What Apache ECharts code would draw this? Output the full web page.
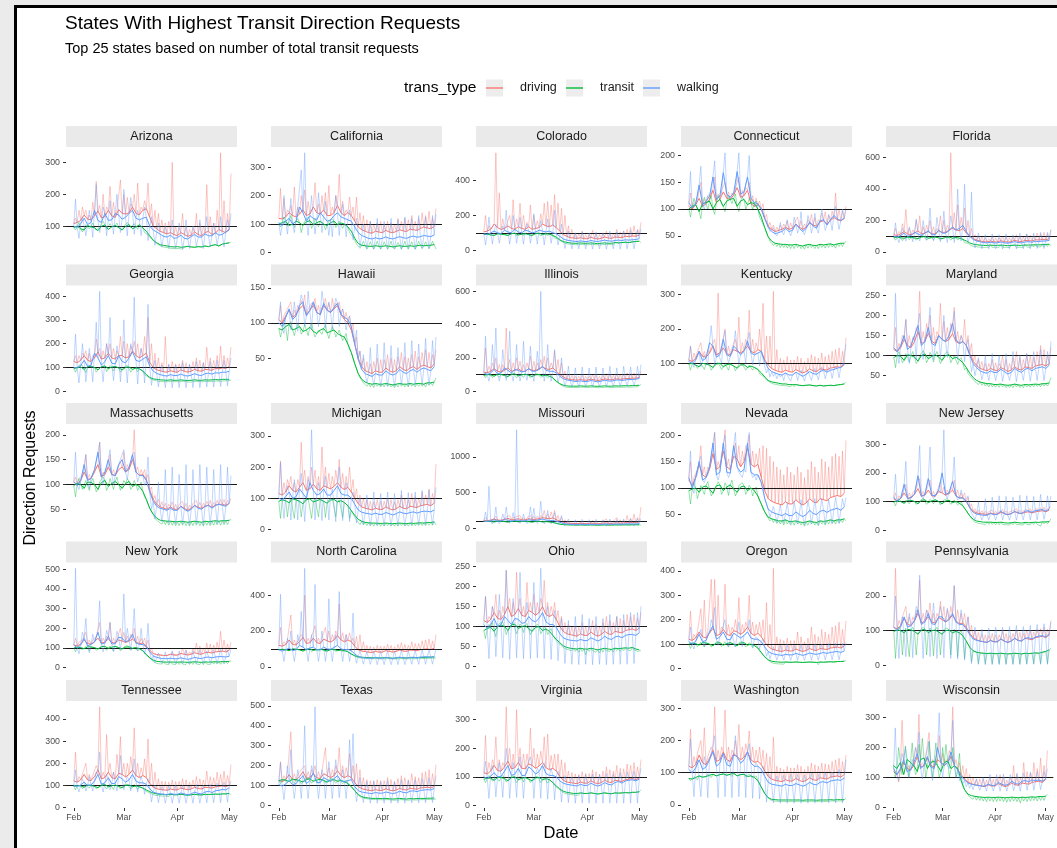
<!DOCTYPE html>
<html><head><meta charset="utf-8">
<script src="https://cdn.jsdelivr.net/npm/echarts@6/dist/echarts.min.js"></script>
<style>html,body{margin:0;padding:0;background:#ebebeb}#c{width:1057px;height:848px}</style>
</head><body><div id="c"></div><script>
// ---------------- DATA ----------------
const TITLE = 'States With Highest Transit Direction Requests';
const SUBTITLE = 'Top 25 states based on number of total transit requests';
const STATES = ['Arizona','California','Colorado','Connecticut','Florida','Georgia','Hawaii','Illinois','Kentucky','Maryland','Massachusetts','Michigan','Missouri','Nevada','New Jersey','New York','North Carolina','Ohio','Oregon','Pennsylvania','Tennessee','Texas','Virginia','Washington','Wisconsin'];
const SERIES_NAMES = ['driving','transit','walking'];
const X_TICK_DAYS = [0,29,60,90];          // days after 2020-02-01
const X_TICK_LABELS = ['Feb','Mar','Apr','May'];
const STEP = 2;                            // one reading every 2 days from Feb 1 to May 1
const Y_TICKS = [
 [100,200,300],[0,100,200,300],[0,200,400],[50,100,150,200],[0,200,400,600],
 [0,100,200,300,400],[0,50,100,150],[0,200,400,600],[100,200,300],[50,100,150,200,250],
 [50,100,150,200],[0,100,200,300],[0,500,1000],[50,100,150,200],[0,100,200,300],
 [0,100,200,300,400,500],[0,200,400],[0,50,100,150,200,250],[0,100,200,300,400],[0,100,200],
 [0,100,200,300,400],[0,100,200,300,400,500],[0,100,200,300],[0,100,200,300],[0,100,200,300]
];
// *_drv driving, *_trn transit, *_wlk walking ; *_s = extreme of the sub-region spread next to each reading
const AZ_drv=[108,112,118,135,122,120,132,148,126,130,150,132,128,152,140, 138,142,160,140,136,150,155,128,100,92,84,80,76,80,74, 70,80,74,68,72,82,74,70,80,84,74,78,90,84,80,92];
const AZ_drv_s=[125,150,160,150,135,175,240,165,200,160,225,175,150,245,200, 190,170,200,235,160,180,235,170,150,140,120,110,115,300,100, 95,140,100,90,95,140,110,100,230,130,110,150,330,180,140,265];
const AZ_trn=[96,100,92,88,102,98,95,86,100,104,90,98,102,96,88, 100,105,92,98,104,95,84,70,56,48,42,40,38,36,35, 36,34,35,37,35,34,36,35,38,36,40,42,38,44,46,48];
const AZ_trn_s=[88,112,82,105,92,110,88,98,115,90,108,95,110,90,100, 112,95,108,90,100,80,72,60,50,42,36,34,32,30,30, 30,28,30,32,30,28,30,30,32,30,35,36,32,38,40,50];
const AZ_wlk=[100,96,108,125,105,112,150,118,112,140,118,120,140,135,122, 128,140,150,125,120,125,128,100,88,82,75,68,66,72,62, 64,72,62,60,68,74,66,66,76,70,70,80,72,74,82,88];
const AZ_wlk_s=[185,62,130,70,150,65,230,80,160,70,180,75,200,80,215, 70,190,75,150,70,160,55,130,40,110,35,100,30,120,30, 110,28,120,30,100,35,120,30,130,35,110,40,130,35,120,140];

const CA_drv=[120,118,125,140,130,125,135,150,130,135,160,140,135,150,130, 130,140,165,140,130,140,130,110,90,80,75,70,68,75,72, 70,78,72,70,74,80,76,74,82,80,78,84,90,86,84,92];
const CA_drv_s=[225,190,150,165,230,160,200,220,180,150,245,170,200,210,235, 160,200,275,180,150,195,160,195,140,130,115,110,100,105,110, 100,110,105,100,120,110,120,115,130,110,120,140,130,145,120,155];
const CA_trn=[100,105,110,95,100,110,105,95,108,112,98,105,110,100,95, 105,110,98,104,100,90,75,50,32,26,24,22,22,24,22, 22,24,22,20,22,24,22,22,24,22,24,26,24,25,26,28];
const CA_trn_s=[90,125,92,130,88,120,70,110,125,85,120,90,115,80,110, 118,88,110,85,105,70,55,30,15,40,12,38,12,40,12, 38,12,40,12,35,12,40,12,38,12,40,14,38,14,40,12];
const CA_wlk=[105,95,110,120,100,110,160,140,110,130,120,115,140,125,110, 115,130,140,125,120,115,110,90,70,60,55,50,48,52,48, 50,55,50,48,52,56,52,50,55,58,54,56,60,58,56,62];
const CA_wlk_s=[60,200,65,190,70,160,290,350,60,200,65,210,70,180,60, 55,200,60,170,55,150,45,120,20,100,15,110,12,120,12, 110,12,120,14,115,12,125,14,120,12,130,15,125,14,130,135];

const CO_drv=[105,110,120,150,130,120,125,140,125,120,135,125,120,135,120, 125,130,150,140,135,145,130,110,90,80,72,70,68,72,66, 66,74,68,64,68,76,70,68,76,74,72,80,78,82,80,86];
const CO_drv_s=[200,140,120,560,330,180,140,200,290,180,270,200,160,260,200, 170,210,270,280,260,320,270,240,200,140,120,100,95,110,90, 90,115,95,90,100,110,100,95,120,105,110,120,130,140,120,160];
const CO_trn=[90,92,88,85,95,92,90,85,95,98,88,92,95,90,85, 95,98,90,95,92,85,75,60,50,45,42,40,40,42,40, 40,42,40,38,40,42,40,40,44,42,44,46,44,48,50,52];
const CO_trn_s=[80,100,78,95,85,98,80,95,100,82,98,85,100,80,95, 100,82,98,85,95,70,65,50,40,36,34,32,32,34,32, 32,34,32,30,32,34,32,32,36,34,36,38,36,40,42,44];
const CO_wlk=[95,90,100,110,100,95,115,105,100,120,105,100,115,110,100, 105,115,110,105,110,100,95,80,65,58,55,52,50,54,50, 50,56,52,50,54,58,54,52,56,58,56,60,58,60,62,66];
const CO_wlk_s=[30,190,35,150,40,140,230,35,200,40,190,35,150,40,210, 35,170,30,180,40,230,30,150,10,110,8,100,8,105,8, 100,6,105,8,100,6,110,8,105,6,110,8,115,8,115,125];

const CT_drv=[105,100,108,120,105,110,118,135,112,118,132,120,118,126,140, 122,125,135,110,105,108,100,82,68,62,58,60,62,66,62, 64,72,66,62,66,74,70,68,76,78,72,78,84,80,78,82];
const CT_drv_s=[130,112,118,150,118,125,130,160,128,135,150,132,130,140,160, 135,140,150,125,120,115,110,90,75,70,66,70,72,78,74, 74,85,78,72,80,90,84,80,92,95,88,96,130,100,96,105];
const CT_trn=[100,105,108,95,110,112,115,100,112,118,105,115,118,120,105, 115,118,108,112,110,100,85,65,48,40,36,35,34,34,33, 33,34,32,31,33,34,32,32,34,33,34,35,33,35,36,36];
const CT_trn_s=[85,120,100,82,122,98,125,90,125,110,95,125,110,128,95, 122,100,120,98,115,85,72,55,40,32,30,28,28,27,26, 26,28,26,25,27,28,26,26,28,27,28,29,27,30,30,40];
const CT_wlk=[112,102,110,145,108,114,124,160,118,124,168,128,122,130,170, 128,132,160,120,112,110,100,82,66,58,54,56,58,64,58, 60,72,64,58,64,76,68,64,78,80,70,80,88,82,78,84];
const CT_wlk_s=[170,100,120,180,100,125,130,190,115,130,205,120,125,135,205, 120,130,200,115,105,110,95,78,58,65,50,75,52,80,50, 85,55,95,52,88,55,92,55,100,60,90,60,105,62,100,98];

const FL_drv=[110,105,115,130,115,110,120,135,115,120,130,115,115,135,125, 125,140,150,140,135,150,120,100,85,75,70,66,64,70,64, 64,72,66,62,66,74,68,66,74,72,70,78,76,80,78,84];
const FL_drv_s=[150,130,180,270,150,140,200,230,160,170,200,160,150,230,200, 170,630,250,300,220,280,200,150,110,100,95,90,85,95,90, 90,100,95,90,95,110,100,95,115,105,105,120,115,125,115,145];
const FL_trn=[92,95,90,88,95,92,90,85,95,98,88,92,95,90,85, 92,95,88,92,88,80,70,58,50,46,44,42,42,44,42, 42,44,42,40,42,44,42,42,45,44,45,46,45,47,48,50];
const FL_trn_s=[75,105,72,100,78,102,75,98,105,75,100,78,102,75,98, 100,75,98,76,95,60,55,40,35,32,30,30,30,30,30, 30,30,30,28,30,30,30,30,32,30,32,33,32,34,35,36];
const FL_wlk=[100,95,105,120,100,105,125,115,105,120,135,110,110,140,120, 120,135,160,140,150,170,130,100,80,70,65,60,58,62,58, 58,64,58,56,60,66,60,58,64,66,62,68,66,70,70,74];
const FL_wlk_s=[185,60,150,70,160,65,210,70,200,75,280,70,220,65,260, 60,230,60,400,70,430,60,380,25,120,20,110,20,115,20, 110,18,115,20,110,18,120,20,115,20,120,22,125,22,125,140];

const GA_drv=[125,120,130,150,130,125,140,165,135,140,160,140,135,150,150, 140,145,170,150,140,150,160,120,100,90,86,82,80,86,82, 80,90,84,80,84,92,86,84,92,90,88,96,94,98,96,104];
const GA_drv_s=[150,150,160,170,160,150,220,180,170,200,200,180,170,230,210, 200,190,210,200,180,230,310,200,160,140,120,230,110,125,115, 115,130,120,110,125,140,130,120,185,140,130,150,190,150,140,185];
const GA_trn=[95,100,102,92,104,105,100,90,104,106,95,102,104,98,90, 100,102,92,98,94,85,70,58,52,50,48,47,46,48,46, 46,48,46,45,46,48,46,46,48,47,48,49,48,50,50,50];
const GA_trn_s=[80,110,108,78,110,112,80,98,112,82,108,85,110,80,102, 108,80,100,82,100,70,60,50,45,42,40,40,40,42,40, 40,42,40,38,40,42,40,40,42,40,42,43,42,44,44,46];
const GA_wlk=[100,98,108,130,105,110,160,140,110,125,150,118,115,150,125, 120,140,165,130,125,135,145,105,85,75,70,66,64,70,66, 66,72,66,64,68,74,68,66,74,76,72,78,76,80,80,84];
const GA_wlk_s=[240,35,200,40,180,40,290,420,40,200,310,45,190,40,300, 35,200,395,30,180,35,365,25,130,18,110,15,115,15,110, 15,120,15,115,15,125,15,120,18,125,18,130,20,130,22,140];

const HI_drv=[105,100,110,118,108,112,120,125,112,118,125,115,112,125,118, 115,120,125,112,105,100,90,70,50,38,32,30,28,32,30, 30,36,32,30,32,38,34,32,36,38,34,38,40,38,36,42];
const HI_drv_s=[125,110,120,130,118,125,132,140,120,128,135,125,122,135,128, 135,128,130,120,115,110,100,80,60,50,45,42,45,50,48, 48,55,50,48,52,58,52,50,55,60,52,58,62,58,55,62];
const HI_trn=[92,90,95,98,90,92,95,88,90,94,88,85,90,92,86, 88,90,85,82,80,70,58,42,28,20,16,14,13,14,13, 13,14,13,12,13,14,13,13,14,13,14,14,13,15,15,16];
const HI_trn_s=[80,100,75,102,82,100,84,98,82,100,80,90,84,98,78, 95,80,90,75,85,62,50,35,22,15,10,9,8,10,9, 9,10,9,8,9,10,9,9,10,9,10,10,9,11,11,22];
const HI_wlk=[100,95,108,120,105,110,125,130,110,118,130,115,112,128,118, 115,122,128,112,108,105,95,70,48,34,28,26,24,28,26, 26,32,28,26,28,34,30,28,32,34,30,34,36,34,32,38];
const HI_wlk_s=[130,85,115,90,130,88,140,95,145,90,130,95,145,92,130, 90,135,95,120,90,110,80,90,60,55,15,65,12,70,10, 72,10,68,10,65,12,72,10,75,12,70,12,78,12,75,80];

const IL_drv=[115,110,120,135,120,115,125,140,120,125,135,120,118,135,125, 125,135,145,135,130,140,120,100,85,75,70,68,66,70,66, 66,72,68,64,68,74,70,68,74,72,72,76,76,78,78,82];
const IL_drv_s=[260,150,170,200,160,160,380,190,170,200,180,160,170,210,180, 170,190,210,200,170,240,190,170,120,100,95,90,90,95,90, 90,100,95,90,95,105,100,95,105,100,100,110,105,110,105,120];
const IL_trn=[95,100,98,90,102,100,95,88,100,104,92,98,102,96,88, 98,100,92,96,90,80,60,45,36,32,30,30,30,32,30, 30,32,30,29,30,32,30,30,32,31,32,33,32,34,34,36];
const IL_trn_s=[80,110,82,105,85,108,80,100,110,80,105,82,108,80,100, 105,82,100,80,95,65,50,35,25,22,22,22,22,24,22, 22,24,22,21,22,24,22,22,24,23,24,25,24,26,26,40];
const IL_wlk=[110,100,110,130,105,110,140,125,110,130,125,115,120,135,120, 120,130,150,125,120,120,110,90,75,68,64,60,58,62,58, 58,64,60,56,60,66,62,60,66,68,64,68,70,70,72,76];
const IL_wlk_s=[330,60,280,380,60,250,65,360,60,280,60,300,65,270,60, 240,600,60,280,60,250,55,200,30,150,25,140,28,145,28, 140,28,145,30,140,28,150,30,140,30,150,32,145,32,150,160];

const KY_drv=[110,105,115,135,120,118,130,150,125,130,145,128,125,140,135, 130,138,150,135,130,140,135,110,95,85,80,76,74,80,76, 74,82,76,72,76,84,78,76,84,82,80,86,88,90,88,96];
const KY_drv_s=[150,130,135,160,135,140,150,170,305,150,200,150,145,170,235, 160,170,255,170,160,200,275,180,180,310,140,115,110,120,110, 110,120,115,105,115,125,120,115,130,120,125,135,140,145,135,175];
const KY_trn=[98,100,95,90,100,98,95,88,98,100,90,96,98,92,86, 95,96,88,92,88,82,72,60,50,46,44,42,40,40,38, 38,38,36,35,36,37,35,34,36,34,35,36,35,37,38,40];
const KY_trn_s=[80,105,85,100,82,102,80,98,102,82,100,80,100,78,98, 98,80,95,80,90,70,62,52,45,40,38,36,35,34,32, 32,33,31,30,31,32,30,29,31,29,30,31,30,32,33,45];
const KY_wlk=[105,100,110,135,108,115,160,150,118,125,170,125,120,150,140, 125,135,165,130,125,130,135,105,85,76,72,68,66,72,66, 66,74,68,62,68,76,70,68,76,80,74,80,82,86,88,100];
const KY_wlk_s=[150,88,120,90,125,95,210,95,130,100,195,100,130,195,100, 125,100,190,95,120,92,110,72,60,62,55,60,50,65,48, 70,50,80,48,78,50,85,52,90,55,88,56,92,58,95,155];

const MD_drv=[115,110,120,140,125,120,135,160,130,135,155,135,130,150,140, 135,140,155,135,130,135,125,105,85,75,68,65,62,68,64, 62,70,66,60,64,72,66,64,72,70,68,74,76,78,74,80];
const MD_drv_s=[170,130,150,190,150,145,170,260,160,180,200,170,160,230,185, 170,180,220,160,150,190,150,130,100,90,85,80,80,90,82, 80,100,90,80,95,110,95,90,105,100,95,110,125,115,100,120];
const MD_trn=[95,100,98,88,102,100,96,86,100,104,92,98,102,96,88, 100,102,92,96,90,82,70,56,45,38,34,32,30,30,28, 28,29,27,26,27,29,27,26,28,27,28,29,28,30,30,32];
const MD_trn_s=[70,110,82,105,84,110,80,100,112,82,108,84,110,80,102, 110,82,100,78,95,65,55,45,35,28,26,24,22,22,21, 21,22,20,20,20,22,20,20,22,21,22,23,22,24,24,45];
const MD_wlk=[120,110,125,150,115,125,150,175,125,135,170,130,125,150,140, 135,150,180,140,130,135,125,100,80,70,62,58,56,62,58, 58,66,60,54,58,68,62,58,66,68,62,68,70,72,68,76];
const MD_wlk_s=[255,80,135,190,80,140,90,205,90,150,220,90,140,95,200, 95,160,210,90,150,85,140,60,50,95,40,100,38,105,38, 100,36,105,38,110,35,100,38,105,36,110,38,115,38,110,135];

const MA_drv=[105,100,108,125,110,112,125,140,115,120,135,120,118,130,135, 125,130,150,125,118,120,110,88,70,60,55,52,50,55,50, 50,56,52,48,52,58,54,52,56,58,54,58,60,60,58,62];
const MA_drv_s=[115,112,118,160,120,122,135,185,125,130,160,130,128,145,165, 140,145,210,135,130,130,120,95,78,70,65,62,60,65,60, 60,66,62,58,62,68,64,62,66,68,64,68,70,70,68,72];
const MA_trn=[98,102,100,92,105,104,100,90,104,108,96,102,106,100,92, 102,106,96,100,96,86,70,52,40,32,28,27,26,26,25, 25,26,25,24,25,26,25,24,26,25,26,27,26,27,27,28];
const MA_trn_s=[75,112,90,108,88,112,85,105,115,88,112,90,115,88,108, 112,90,108,88,105,75,60,45,32,25,20,19,18,18,17, 17,18,17,16,17,18,17,16,18,17,18,19,18,19,19,30];
const MA_wlk=[105,98,108,140,108,112,130,165,115,125,150,120,118,140,150, 125,135,160,125,118,118,108,85,66,56,52,50,48,52,48, 48,56,50,46,50,58,52,50,56,58,52,58,60,58,56,62];
const MA_wlk_s=[165,90,115,160,92,120,130,185,100,130,170,100,125,150,170, 110,140,165,105,120,98,155,50,30,105,25,130,22,135,20, 120,20,140,18,130,20,140,18,135,20,130,20,140,22,135,118];

const MI_drv=[115,110,120,140,125,120,135,150,125,130,145,130,125,140,135, 130,138,150,135,128,135,120,100,82,72,68,65,62,68,64, 64,72,66,62,66,74,68,66,74,72,70,76,78,80,76,84];
const MI_drv_s=[220,150,160,170,150,160,280,190,170,200,190,170,265,200,180, 170,190,225,180,170,200,160,130,110,100,95,90,88,95,90, 90,100,95,88,95,110,100,95,115,105,100,120,110,130,115,210];
const MI_trn=[90,95,92,85,98,95,90,82,95,98,88,92,96,90,84, 94,96,88,92,86,76,60,45,32,26,22,21,20,20,19, 19,20,19,18,19,20,19,18,20,19,20,21,20,22,22,24];
const MI_trn_s=[35,100,40,98,35,100,40,95,100,35,98,40,100,38,95, 100,40,95,38,90,35,50,30,15,14,12,12,10,12,10, 10,12,10,10,10,12,10,10,12,11,12,12,12,13,13,14];
const MI_wlk=[100,95,105,120,100,105,130,115,100,150,125,110,115,130,110, 110,125,140,115,110,110,100,80,62,55,52,50,48,52,48, 48,54,50,46,50,56,52,50,54,56,52,56,58,58,56,62];
const MI_wlk_s=[215,35,140,30,160,30,180,25,160,320,30,150,28,170,30, 130,25,200,28,150,25,120,20,100,15,110,12,120,12,115, 12,120,12,115,12,125,12,118,12,120,14,125,14,125,14,135];

const MO_drv=[110,105,115,130,115,112,125,140,118,125,135,120,118,135,125, 125,135,150,140,135,145,120,100,85,75,70,68,66,72,66, 66,74,68,64,68,76,70,68,76,74,72,78,80,82,78,90];
const MO_drv_s=[150,130,140,170,140,140,160,180,150,160,180,150,150,180,170, 170,180,250,200,230,250,180,150,120,100,95,90,90,100,90, 90,110,100,90,100,130,110,100,150,120,110,180,140,200,150,300];
const MO_trn=[95,98,96,90,100,98,95,88,98,100,92,96,98,94,88, 96,98,90,94,90,82,70,58,52,50,48,47,46,48,46, 46,48,46,45,46,48,46,46,48,47,48,49,48,50,50,50];
const MO_trn_s=[85,105,85,100,88,105,85,98,105,85,102,88,105,85,98, 102,88,98,85,95,75,62,52,46,44,42,41,40,42,40, 40,42,40,39,40,42,40,40,42,41,42,43,42,44,44,45];
const MO_wlk=[100,95,105,120,100,105,120,115,100,110,115,105,105,120,110, 110,120,130,115,110,110,100,85,68,60,56,54,52,56,52, 52,58,54,50,54,60,56,54,58,60,56,60,62,62,60,66];
const MO_wlk_s=[230,590,60,300,65,200,300,70,220,1380,70,200,65,300,280, 65,380,60,250,60,220,55,180,35,130,30,120,30,125,30, 120,30,125,30,120,30,130,30,125,32,130,32,135,32,135,140];

const NV_drv=[115,105,120,145,125,120,135,165,135,140,170,140,135,160,155, 140,150,175,145,140,145,120,95,80,75,72,70,68,74,70, 70,78,72,68,72,80,74,72,80,78,76,82,84,86,84,90];
const NV_drv_s=[150,120,135,180,140,140,160,205,150,165,210,155,150,185,180, 170,180,200,170,165,175,180,175,160,150,140,135,125,140,130, 125,140,130,120,135,150,140,130,155,150,140,160,165,160,170,190];
const NV_trn=[95,98,100,92,102,104,98,90,104,106,95,102,106,98,92, 102,104,95,100,95,85,70,55,45,42,40,38,38,40,37, 37,38,36,35,36,38,36,35,38,37,38,40,38,40,40,42];
const NV_trn_s=[70,110,80,105,88,112,85,100,112,88,110,86,115,85,105, 110,88,105,85,102,75,60,48,38,35,33,32,30,32,30, 30,32,30,28,30,32,30,29,32,30,32,33,32,34,35,38];
const NV_wlk=[120,100,120,150,115,120,140,185,125,130,185,130,128,180,140, 130,135,185,130,125,125,110,80,60,55,52,50,48,52,48, 48,55,50,46,50,58,52,50,56,58,54,58,60,62,58,64];
const NV_wlk_s=[170,90,125,160,110,125,150,205,115,130,200,120,125,205,130, 120,130,205,120,115,120,100,70,45,65,35,68,34,72,33, 75,32,78,30,76,32,80,30,80,32,78,33,82,33,80,82];

const NJ_drv=[108,102,110,130,112,112,125,145,118,122,140,120,118,135,130, 122,128,140,120,112,115,100,80,66,60,58,56,55,60,56, 56,62,58,54,58,64,60,58,62,64,60,64,66,68,64,70];
const NJ_drv_s=[130,120,125,160,130,130,145,180,135,140,175,135,135,170,150, 140,150,175,140,130,130,115,92,75,70,68,66,65,70,66, 66,72,68,64,68,75,70,68,72,75,70,75,78,80,75,82];
const NJ_trn=[98,102,100,94,104,104,100,92,104,106,96,102,106,100,92, 102,104,96,100,94,85,68,50,38,32,30,28,28,28,27, 27,28,26,25,26,28,26,25,27,26,27,28,27,29,29,30];
const NJ_trn_s=[85,110,95,105,92,110,90,100,112,90,108,92,112,88,105, 110,90,105,88,100,75,58,40,28,24,22,20,20,20,19, 19,20,19,18,19,20,19,18,20,19,20,21,14,22,22,40];
const NJ_wlk=[115,100,112,160,110,115,125,190,118,125,180,122,120,140,200, 125,130,170,120,112,112,100,78,62,56,54,52,52,58,54, 56,66,58,54,58,66,60,58,66,68,62,68,70,72,66,74];
const NJ_wlk_s=[195,95,120,240,100,120,130,295,110,130,290,110,125,130,350, 110,130,255,105,140,100,120,60,38,100,35,110,35,115,35, 120,35,118,35,115,35,122,36,120,36,118,36,125,38,120,120];

const NY_drv=[115,110,120,140,122,120,132,150,125,130,145,128,125,140,135, 128,135,145,130,122,125,110,88,72,66,64,62,62,68,64, 64,72,68,64,68,76,70,68,76,78,74,80,82,84,80,88];
const NY_drv_s=[150,130,140,180,140,140,160,230,150,160,230,150,145,200,180, 160,170,200,160,150,150,140,100,80,75,72,70,70,80,74, 74,100,90,80,95,125,110,100,125,120,115,130,185,140,120,130];
const NY_trn=[100,104,102,96,106,105,102,95,106,108,98,104,108,102,95, 104,106,98,102,96,86,68,50,38,32,30,29,28,29,28, 28,29,28,27,28,30,28,27,29,28,29,30,29,31,31,32];
const NY_trn_s=[80,112,90,108,85,112,88,100,112,88,110,85,112,85,105, 112,88,105,85,100,72,55,40,25,20,18,18,16,18,16, 16,18,16,16,16,18,16,15,18,16,18,18,17,20,20,35];
const NY_wlk=[115,100,115,150,110,118,130,180,120,125,160,120,122,155,150, 130,140,170,125,118,118,105,80,60,52,48,46,45,48,45, 45,50,46,42,46,52,48,46,52,54,50,54,56,56,54,58];
const NY_wlk_s=[505,70,180,250,75,170,120,340,80,190,230,80,185,90,375, 200,90,300,85,200,70,225,40,25,75,22,80,20,85,20, 85,20,88,20,85,20,90,20,85,22,90,22,92,22,90,95];

const NC_drv=[120,115,125,150,125,122,140,165,130,135,160,135,130,155,145, 138,150,175,150,140,150,140,115,95,88,85,82,80,86,82, 82,90,86,82,86,94,88,86,94,92,90,96,98,100,96,104];
const NC_drv_s=[220,140,150,290,150,145,180,400,160,170,230,160,160,220,200, 180,200,350,190,180,190,160,170,180,140,120,115,110,120,115, 115,125,120,112,125,135,125,120,140,130,130,145,150,155,145,180];
const NC_trn=[95,98,96,90,100,98,95,88,98,100,92,96,98,94,88, 96,98,90,94,90,84,72,62,56,54,52,52,50,52,50, 50,52,50,48,50,52,50,50,52,51,52,53,52,54,54,55];
const NC_trn_s=[85,102,88,98,90,102,86,96,102,85,100,88,102,85,96, 100,86,96,85,95,75,65,55,50,48,46,46,45,46,45, 45,46,45,44,45,46,45,45,46,45,46,47,46,48,48,50];
const NC_wlk=[95,88,95,105,90,95,120,110,95,105,110,95,95,110,100, 98,108,120,100,95,98,90,72,58,52,50,48,48,52,48, 48,52,50,46,50,54,50,48,52,54,50,54,56,56,54,58];
const NC_wlk_s=[405,30,160,200,30,180,310,550,30,180,460,30,200,30,380, 30,180,420,30,180,30,300,20,90,15,85,14,88,12,88, 12,90,12,88,12,92,12,90,14,92,14,94,14,95,15,100];

const OH_drv=[115,110,118,135,120,118,130,150,125,130,145,128,125,140,135, 128,135,150,130,125,130,118,100,88,82,80,78,76,82,78, 78,86,80,76,80,88,82,80,88,86,84,90,92,94,90,96];
const OH_drv_s=[175,125,150,180,140,150,240,170,160,235,170,150,210,160,180, 160,170,215,160,150,160,140,125,110,105,100,100,98,110,100, 100,115,105,100,110,125,115,110,125,120,115,130,125,130,120,135];
const OH_trn=[90,95,98,88,100,104,100,90,104,106,95,100,102,95,88, 98,100,90,94,88,78,68,60,52,48,46,45,44,46,44, 44,46,44,42,44,46,44,43,46,45,46,47,46,48,44,42];
const OH_trn_s=[70,105,110,75,108,110,80,98,110,82,106,85,108,80,98, 106,82,100,80,95,70,60,52,45,42,40,38,36,38,30, 38,40,36,34,36,40,38,36,40,38,40,42,40,42,38,40];
const OH_wlk=[105,95,105,120,100,105,125,115,105,120,118,108,110,125,115, 112,120,135,112,105,105,98,82,72,68,66,65,64,68,65, 65,72,68,64,68,76,70,68,74,76,72,78,80,80,78,84];
const OH_wlk_s=[175,20,150,25,180,22,240,18,170,22,235,20,160,20,210, 22,245,20,150,18,140,15,120,8,115,6,125,5,130,6, 120,5,125,6,120,5,130,6,125,6,130,6,135,8,135,150];

const OR_drv=[120,115,125,150,130,125,145,165,135,140,160,140,135,155,150, 140,150,170,145,135,145,130,108,90,80,76,72,70,76,72, 72,80,74,70,74,82,76,74,82,80,78,84,86,88,84,92];
const OR_drv_s=[235,140,150,245,280,150,365,365,300,170,345,180,170,200,290, 180,190,300,190,180,190,200,270,180,410,130,120,115,125,115, 115,150,130,110,125,170,140,130,160,150,140,170,175,190,160,195];
const OR_trn=[100,104,102,96,106,105,100,94,104,106,96,102,106,100,94, 104,106,96,100,94,84,66,48,36,30,28,27,26,27,26, 26,27,26,25,26,27,26,25,27,26,27,28,27,29,29,30];
const OR_trn_s=[82,112,90,108,88,112,88,102,112,90,110,88,112,88,106, 110,88,106,86,100,72,55,40,28,22,20,19,18,19,18, 18,19,18,17,18,19,18,16,19,18,19,20,19,21,21,35];
const OR_wlk=[110,100,112,140,110,115,150,175,120,130,150,120,118,145,135, 125,135,150,125,120,120,110,88,70,62,58,56,54,58,56, 56,62,58,54,58,64,60,58,62,66,62,66,68,70,66,72];
const OR_wlk_s=[170,80,130,160,90,140,200,250,95,150,200,90,140,90,190, 90,140,200,85,130,80,120,50,40,90,35,95,35,100,34, 95,34,100,34,98,35,102,35,100,36,104,36,105,36,104,108];

const PA_drv=[110,105,115,135,118,115,128,150,122,128,140,125,122,138,132, 125,132,145,128,120,122,110,92,80,74,70,68,66,72,68, 68,76,70,66,70,78,72,70,78,76,74,80,82,84,80,88];
const PA_drv_s=[280,130,140,170,140,140,160,245,150,160,180,150,150,185,170, 160,170,230,160,150,150,140,115,100,95,90,88,86,92,88, 88,98,92,86,92,102,95,92,102,100,96,104,106,110,104,130];
const PA_trn=[98,102,100,94,104,102,98,90,102,104,94,100,102,96,90, 100,102,94,98,94,85,70,52,42,38,36,35,34,35,34, 34,35,34,33,34,35,34,33,35,34,35,36,35,38,40,45];
const PA_trn_s=[20,110,30,108,25,110,30,100,110,30,108,28,110,30,104, 108,30,104,25,100,20,70,10,40,5,35,5,35,5,33, 5,34,5,33,5,35,5,33,5,34,5,35,5,38,5,50];
const PA_wlk=[110,100,112,140,110,115,130,160,118,125,150,120,118,140,140, 125,135,150,125,118,118,105,88,76,72,70,68,66,72,68, 68,76,70,66,70,78,72,70,78,80,76,82,84,86,82,92];
const PA_wlk_s=[200,20,140,25,150,22,170,260,20,160,25,180,20,170,22, 165,20,230,18,160,15,140,5,110,3,105,2,108,2,110, 2,110,2,112,2,115,2,112,3,115,3,118,3,120,3,125];

const TN_drv=[120,115,125,150,125,122,140,170,130,135,160,135,130,155,150, 138,150,170,145,135,145,135,110,92,85,82,80,78,84,80, 80,88,84,80,84,92,86,84,92,90,88,94,96,98,94,102];
const TN_drv_s=[250,140,150,200,150,145,190,455,160,330,200,160,240,320,200, 200,230,360,200,180,220,310,200,160,130,120,118,115,125,118, 118,130,125,115,125,140,130,125,165,140,135,160,150,165,145,195];
const TN_trn=[96,100,98,92,102,100,96,90,100,104,94,98,102,96,90, 100,102,94,98,94,88,80,72,66,62,60,60,58,60,58, 58,60,58,56,58,60,58,57,60,59,60,61,60,62,62,64];
const TN_trn_s=[80,108,85,105,88,108,85,98,108,84,106,82,108,84,102, 106,84,104,82,100,78,70,62,56,54,52,52,50,52,50, 50,52,50,48,50,52,50,50,52,51,52,53,52,54,54,56];
const TN_wlk=[100,95,102,115,100,102,120,150,105,112,135,108,110,140,130, 115,125,150,120,112,112,105,85,70,65,62,60,58,64,60, 60,66,62,58,62,70,64,62,70,74,68,76,78,82,80,90];
const TN_wlk_s=[170,70,130,75,140,75,160,250,70,150,80,160,75,235,80, 140,75,220,70,140,60,130,25,100,22,95,20,98,20,100, 20,100,20,98,20,105,20,100,22,105,22,110,22,115,24,120];

const TX_drv=[125,120,130,155,130,128,145,170,135,140,160,140,135,160,150, 140,150,175,150,140,150,140,115,95,85,80,76,74,80,76, 76,84,78,74,78,86,80,78,86,84,82,88,90,92,88,96];
const TX_drv_s=[220,150,160,370,160,155,180,200,170,180,200,170,170,290,190, 180,200,290,200,190,260,200,210,180,140,130,125,120,130,125, 125,140,130,120,135,150,140,130,160,145,140,165,170,180,160,205];
const TX_trn=[125,130,128,120,132,130,125,118,130,134,122,128,132,126,118, 128,130,122,126,120,110,95,75,55,45,40,38,36,36,35, 35,36,34,33,34,36,34,33,35,34,35,36,35,37,37,38];
const TX_trn_s=[110,138,115,135,112,138,110,130,140,112,136,112,140,112,132, 136,112,132,110,128,100,85,60,45,38,34,32,30,30,29, 29,30,28,27,28,30,28,27,29,28,29,30,29,31,31,33];
const TX_wlk=[105,98,108,125,105,110,130,150,110,125,165,115,115,140,130, 120,135,150,125,118,125,130,95,75,68,65,62,60,66,62, 62,68,64,60,64,72,66,64,72,74,70,76,78,80,78,86];
const TX_wlk_s=[215,30,200,280,35,180,35,400,35,200,495,35,180,35,220, 35,230,40,180,35,330,360,20,140,15,120,12,125,12,120, 12,125,12,120,12,130,12,125,14,130,14,135,14,140,15,150];

const VA_drv=[115,110,120,140,122,120,135,155,128,132,150,130,128,145,140, 130,138,150,132,125,130,120,102,88,82,80,78,76,82,78, 78,86,80,76,80,88,82,80,88,86,84,90,92,94,90,96];
const VA_drv_s=[245,150,160,240,160,150,345,200,180,335,200,180,180,270,200, 180,190,240,250,175,180,180,160,150,120,115,110,108,118,112, 112,125,118,110,120,135,125,120,140,130,128,145,140,150,135,160];
const VA_trn=[92,95,96,88,98,98,94,86,98,100,90,95,98,92,86, 96,98,90,94,90,80,68,58,50,46,44,42,42,44,42, 42,44,42,40,42,44,42,41,44,43,44,45,44,46,46,48];
const VA_trn_s=[80,105,85,100,85,105,82,96,105,80,102,82,104,80,98, 102,80,98,78,95,70,60,50,42,40,38,36,36,38,36, 36,38,36,34,36,38,36,35,38,37,38,39,38,40,40,55];
const VA_wlk=[100,95,102,115,100,102,120,140,105,110,130,105,105,135,125, 110,118,140,112,105,105,100,86,78,74,72,70,68,74,70, 70,78,72,68,72,80,74,72,80,84,78,86,88,90,86,92];
const VA_wlk_s=[155,25,140,30,150,28,200,25,150,28,170,25,140,170,25, 130,25,150,22,130,20,120,12,105,10,100,8,105,8,108, 8,110,8,108,8,112,8,110,8,115,8,118,8,120,8,130];

const WA_drv=[120,115,125,155,130,125,145,170,135,140,165,140,135,160,150, 140,148,165,140,132,135,125,105,88,80,76,74,72,78,74, 74,82,76,72,76,84,78,76,84,82,80,86,88,90,86,94];
const WA_drv_s=[235,150,160,200,240,150,180,305,170,180,295,180,170,200,250, 180,190,230,180,170,180,170,160,150,210,120,115,110,120,115, 115,125,120,110,120,130,125,120,130,128,125,135,140,145,135,155];
const WA_trn=[82,80,85,90,86,88,92,95,90,94,96,92,95,98,90, 94,95,88,90,85,75,55,35,22,17,16,15,15,15,15, 15,15,15,14,15,15,15,14,15,15,15,16,15,16,16,16];
const WA_trn_s=[75,88,78,95,80,95,85,100,85,100,90,98,88,102,85, 100,86,96,84,90,65,45,28,16,12,11,10,10,10,10, 10,11,10,10,10,11,10,10,11,10,11,12,11,12,12,20];
const WA_wlk=[110,100,115,140,110,118,140,165,120,130,160,125,120,155,150, 130,140,165,130,120,120,110,88,70,64,62,60,58,64,60, 60,66,62,58,62,70,64,62,70,72,68,74,76,78,76,84];
const WA_wlk_s=[205,25,140,25,150,22,160,215,22,150,25,140,22,215,25, 130,22,190,20,130,18,120,8,95,6,90,5,92,5,95, 5,95,5,92,5,98,5,95,6,100,6,102,6,110,6,140];

const WI_drv=[120,110,125,150,130,125,140,170,135,140,165,140,135,160,150, 140,150,170,140,125,110,95,85,80,76,74,72,70,76,72, 72,80,74,70,74,82,76,74,82,80,78,84,86,88,84,94];
const WI_drv_s=[120,85,290,150,140,140,200,310,150,170,250,160,150,240,180, 160,190,335,160,150,140,130,110,100,95,95,95,92,100,95, 95,110,100,92,100,140,110,100,150,120,115,150,130,165,140,190];
const WI_trn=[140,130,150,110,160,150,140,120,160,165,130,150,155,140,120, 150,155,130,140,130,90,60,45,40,38,36,35,34,35,34, 34,35,34,33,34,35,34,33,35,34,35,36,35,37,37,38];
const WI_trn_s=[100,200,110,205,100,215,110,210,230,100,220,100,215,100,200, 210,100,200,100,180,70,50,35,28,25,24,22,20,22,20, 20,22,20,18,20,22,20,15,22,20,22,24,22,24,24,45];
const WI_wlk=[130,110,130,160,120,125,150,180,130,140,170,135,130,200,150, 140,150,185,140,125,105,92,82,78,76,74,72,72,78,74, 74,84,78,74,78,88,80,78,88,90,86,92,90,92,88,96];
const WI_wlk_s=[265,90,180,200,100,160,200,250,95,170,220,90,160,315,100, 150,130,290,100,90,80,70,65,60,95,58,100,55,110,55, 110,55,112,55,110,56,115,55,115,58,118,58,120,60,120,130];

const PANELS = [
 [AZ_drv,AZ_drv_s,AZ_trn,AZ_trn_s,AZ_wlk,AZ_wlk_s],
 [CA_drv,CA_drv_s,CA_trn,CA_trn_s,CA_wlk,CA_wlk_s],
 [CO_drv,CO_drv_s,CO_trn,CO_trn_s,CO_wlk,CO_wlk_s],
 [CT_drv,CT_drv_s,CT_trn,CT_trn_s,CT_wlk,CT_wlk_s],
 [FL_drv,FL_drv_s,FL_trn,FL_trn_s,FL_wlk,FL_wlk_s],
 [GA_drv,GA_drv_s,GA_trn,GA_trn_s,GA_wlk,GA_wlk_s],
 [HI_drv,HI_drv_s,HI_trn,HI_trn_s,HI_wlk,HI_wlk_s],
 [IL_drv,IL_drv_s,IL_trn,IL_trn_s,IL_wlk,IL_wlk_s],
 [KY_drv,KY_drv_s,KY_trn,KY_trn_s,KY_wlk,KY_wlk_s],
 [MD_drv,MD_drv_s,MD_trn,MD_trn_s,MD_wlk,MD_wlk_s],
 [MA_drv,MA_drv_s,MA_trn,MA_trn_s,MA_wlk,MA_wlk_s],
 [MI_drv,MI_drv_s,MI_trn,MI_trn_s,MI_wlk,MI_wlk_s],
 [MO_drv,MO_drv_s,MO_trn,MO_trn_s,MO_wlk,MO_wlk_s],
 [NV_drv,NV_drv_s,NV_trn,NV_trn_s,NV_wlk,NV_wlk_s],
 [NJ_drv,NJ_drv_s,NJ_trn,NJ_trn_s,NJ_wlk,NJ_wlk_s],
 [NY_drv,NY_drv_s,NY_trn,NY_trn_s,NY_wlk,NY_wlk_s],
 [NC_drv,NC_drv_s,NC_trn,NC_trn_s,NC_wlk,NC_wlk_s],
 [OH_drv,OH_drv_s,OH_trn,OH_trn_s,OH_wlk,OH_wlk_s],
 [OR_drv,OR_drv_s,OR_trn,OR_trn_s,OR_wlk,OR_wlk_s],
 [PA_drv,PA_drv_s,PA_trn,PA_trn_s,PA_wlk,PA_wlk_s],
 [TN_drv,TN_drv_s,TN_trn,TN_trn_s,TN_wlk,TN_wlk_s],
 [TX_drv,TX_drv_s,TX_trn,TX_trn_s,TX_wlk,TX_wlk_s],
 [VA_drv,VA_drv_s,VA_trn,VA_trn_s,VA_wlk,VA_wlk_s],
 [WA_drv,WA_drv_s,WA_trn,WA_trn_s,WA_wlk,WA_wlk_s],
 [WI_drv,WI_drv_s,WI_trn,WI_trn_s,WI_wlk,WI_wlk_s]
];

// ---------------- LAYOUT / STYLE ----------------
const FONT = 'Liberation Sans, Arial, Helvetica, sans-serif';
const COLORS = ['#F8766D','#00BA38','#619CFF'];
const COL_LEFT = [66,271,476,681,886];
const ROW_TOP = [148,286.5,425,563.5,702];
const PLOT_W = 171, PLOT_H = 106;
const X_MIN = -4.5, X_MAX = 94.5;
const LEG_X = [486,566,643];

function yRange(arrs){
  let lo = Infinity, hi = -Infinity;
  arrs.forEach(a => a.forEach(v => { if (v < lo) lo = v; if (v > hi) hi = v; }));
  lo = Math.min(lo, 100); hi = Math.max(hi, 100);
  const pad = (hi - lo) * 0.05;
  return [lo - pad, hi + pad];
}

const grids = [], xAxes = [], yAxes = [], series = [];
const graphics = [
  {type:'rect', z:-20, shape:{x:0,y:0,width:1057,height:848}, style:{fill:'#EBEBEB'}},
  {type:'rect', z:-19, shape:{x:15.5,y:6.5,width:1100,height:900}, style:{fill:'#FFFFFF', stroke:'#000000', lineWidth:3}},
  {type:'text', x:65, y:24, style:{text:TITLE, fontSize:19, fontFamily:FONT, fill:'#000', verticalAlign:'middle'}},
  {type:'text', x:65, y:49, style:{text:SUBTITLE, fontSize:14.5, fontFamily:FONT, fill:'#000', verticalAlign:'middle'}},
  {type:'text', x:404, y:88, style:{text:'trans_type', fontSize:15.5, fontFamily:FONT, fill:'#000', verticalAlign:'middle'}},
  {type:'text', x:31, y:478, rotation:Math.PI/2, style:{text:'Direction Requests', fontSize:16, fontFamily:FONT, fill:'#000', align:'center', verticalAlign:'middle'}},
  {type:'text', x:561, y:833, style:{text:'Date', fontSize:16.5, fontFamily:FONT, fill:'#000', align:'center', verticalAlign:'middle'}}
];
LEG_X.forEach(x => graphics.push({type:'rect', z:-5, shape:{x:x, y:79.5, width:17, height:17}, style:{fill:'#EDEDED'}}));

PANELS.forEach((arrs, p) => {
  const r = Math.floor(p / 5), c = p % 5;
  const left = COL_LEFT[c], top = ROW_TOP[r];
  const bottom = (r === 4);
  grids.push({left:left, top:top, width:PLOT_W, height:PLOT_H});
  graphics.push({type:'rect', z:-5, shape:{x:left, y:top-22, width:PLOT_W, height:21}, style:{fill:'#EAEAEA'}});
  graphics.push({type:'text', z:-4, x:left+PLOT_W/2, y:top-11.5, style:{text:STATES[p], fontSize:12.5, fontFamily:FONT, fill:'#1A1A1A', align:'center', verticalAlign:'middle'}});
  xAxes.push({
    type:'value', gridIndex:p, min:X_MIN, max:X_MAX, position:'bottom',
    axisLine:{show:false, onZero:false}, splitLine:{show:false},
    axisTick:{show:bottom, length:3, lineStyle:{color:'#333333'}, customValues:X_TICK_DAYS},
    axisLabel:{show:bottom, customValues:X_TICK_DAYS, fontSize:8.8, color:'#4D4D4D', margin:5, fontFamily:FONT,
      formatter: v => { const i = X_TICK_DAYS.indexOf(v); return i >= 0 ? X_TICK_LABELS[i] : ''; }}
  });
  const yr = yRange(arrs);
  yAxes.push({
    type:'value', gridIndex:p, min:yr[0], max:yr[1], position:'left',
    axisLine:{show:false, onZero:false}, splitLine:{show:false},
    axisTick:{show:true, length:3, lineStyle:{color:'#333333'}, customValues:Y_TICKS[p]},
    axisLabel:{customValues:Y_TICKS[p], fontSize:8.8, color:'#4D4D4D', margin:6, fontFamily:FONT,
      formatter: v => String(v)}
  });
  SERIES_NAMES.forEach((name, ti) => {
    const main = arrs[ti*2], spk = arrs[ti*2+1];
    const mainData = main.map((v, k) => [k*STEP, v]);
    const spreadData = [];
    main.forEach((v, k) => { spreadData.push([k*STEP, v]); if (spk[k] != null) spreadData.push([k*STEP+1, spk[k]]); });
    const s = {
      type:'line', name:name, xAxisIndex:p, yAxisIndex:p, data:mainData, symbol:'none', z:3+ti*2,
      lineStyle:{color:COLORS[ti], width:1, opacity:1}, itemStyle:{color:COLORS[ti]}, silent:true, animation:false
    };
    if (ti === 2) {
      s.markLine = {silent:true, symbol:'none', animation:false, label:{show:false},
        lineStyle:{color:'#1A1A1A', width:1.1, type:'solid'}, data:[{yAxis:100}]};
    }
    series.push(s);
    series.push({
      type:'line', name:name, xAxisIndex:p, yAxisIndex:p, data:spreadData, symbol:'none', z:2+ti*2,
      lineStyle:{color:COLORS[ti], width:0.8, opacity:0.5}, itemStyle:{color:COLORS[ti]}, silent:true, animation:false
    });
  });
});

const chart = echarts.init(document.getElementById('c'), null, {width:1057, height:848});
chart.setOption({
  animation:false,
  backgroundColor:'#FFFFFF',
  textStyle:{fontFamily:FONT},
  graphic:{elements:graphics},
  legend: SERIES_NAMES.map((n, i) => ({
    data:[n], left:LEG_X[i], top:79.5, padding:0, itemWidth:29, itemHeight:17, selectedMode:false,
    icon:'path://M0,0M29,17M0,7.8H17V9.2H0Z',
    textStyle:{fontSize:12.5, color:'#1A1A1A', fontFamily:FONT}
  })),
  grid:grids, xAxis:xAxes, yAxis:yAxes, series:series
});
</script></body></html>
